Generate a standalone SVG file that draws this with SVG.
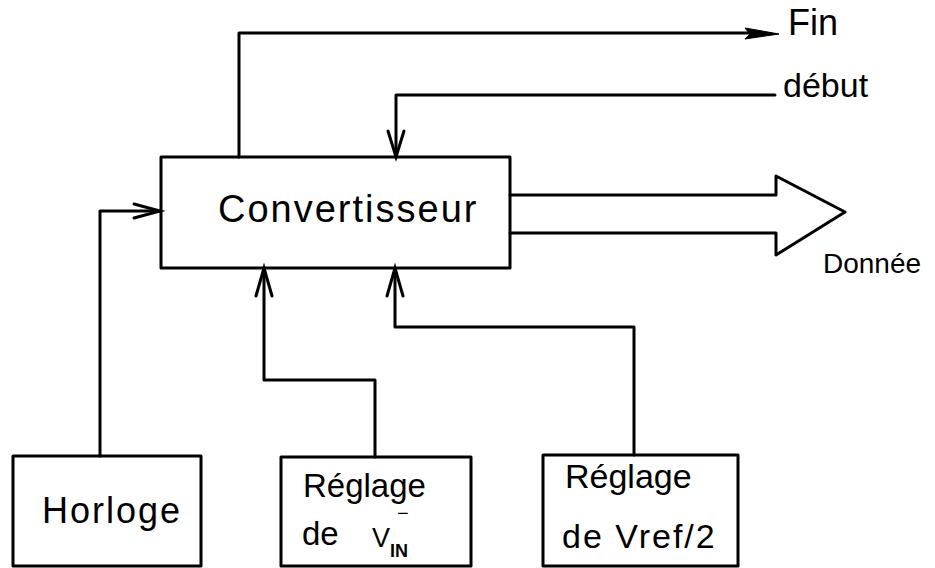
<svg xmlns="http://www.w3.org/2000/svg" width="935" height="568" viewBox="0 0 935 568">
<style>
.box{fill:none;stroke:#000;stroke-width:3;stroke-linejoin:round}
.ln{fill:none;stroke:#000;stroke-width:3;stroke-linejoin:round;stroke-linecap:round}
.ah{fill:none;stroke:#000;stroke-width:3;stroke-linejoin:miter;stroke-linecap:round}
.t{font-family:"Liberation Sans","DejaVu Sans",sans-serif;fill:#000}
</style>
<rect width="935" height="568" fill="#fff"/>
<g id="connectors">
  <!-- Fin output -->
  <path class="ln" d="M239,157 V33 H750"/>
  <polygon points="745,28 779,34 745,39 750,34" fill="#000" stroke="#000" stroke-width="1"/>
  <!-- début input -->
  <path class="ln" d="M775,95 H396 V157"/>
  <path class="ah" d="M388,131 L396,157 L404,131"/>
  <!-- Horloge to converter -->
  <path class="ln" d="M100,456 V211 H160"/>
  <path class="ah" d="M134,204 L160,211 L134,218"/>
  <!-- Vin to converter -->
  <path class="ln" d="M375,457 V380 H264 V268"/>
  <path class="ah" d="M256,296 L264,268 L272,296"/>
  <!-- Vref to converter -->
  <path class="ln" d="M634,455 V327 H395 V268"/>
  <path class="ah" d="M387,296 L395,268 L403,296"/>
  <!-- Donnée bus arrow -->
  <path class="ln" d="M510,195 H776 V176 L845,212 L776,255 V233 H510"/>
</g>
<g id="convertisseur">
  <rect class="box" x="161" y="157" width="349" height="111"/>
  <text class="t" x="218" y="222" font-size="38" letter-spacing="2">Convertisseur</text>
</g>
<g id="fin-label">
  <text class="t" x="788" y="35" font-size="36">Fin</text>
</g>
<g id="debut-label">
  <text class="t" x="783" y="97" font-size="34">début</text>
</g>
<g id="donnee-label">
  <text class="t" x="823" y="273" font-size="28">Donnée</text>
</g>
<g id="horloge">
  <rect class="box" x="13" y="456" width="188" height="110"/>
  <text class="t" x="42" y="523" font-size="36" letter-spacing="2">Horloge</text>
</g>
<g id="reglage-vin">
  <rect class="box" x="281" y="457" width="190" height="109"/>
  <text class="t" x="303" y="497" font-size="33">Réglage</text>
  <text class="t" x="302" y="545" font-size="33">de</text>
  <text class="t" x="372" y="547" font-size="27">V<tspan font-size="18" font-weight="bold" dy="10">IN</tspan></text>
  <text class="t" x="397" y="520" font-size="20">−</text>
</g>
<g id="reglage-vref">
  <rect class="box" x="543" y="455" width="195" height="111"/>
  <text class="t" x="565" y="488" font-size="34">Réglage</text>
  <text class="t" x="562" y="548" font-size="34" letter-spacing="2">de Vref/2</text>
</g>
</svg>
